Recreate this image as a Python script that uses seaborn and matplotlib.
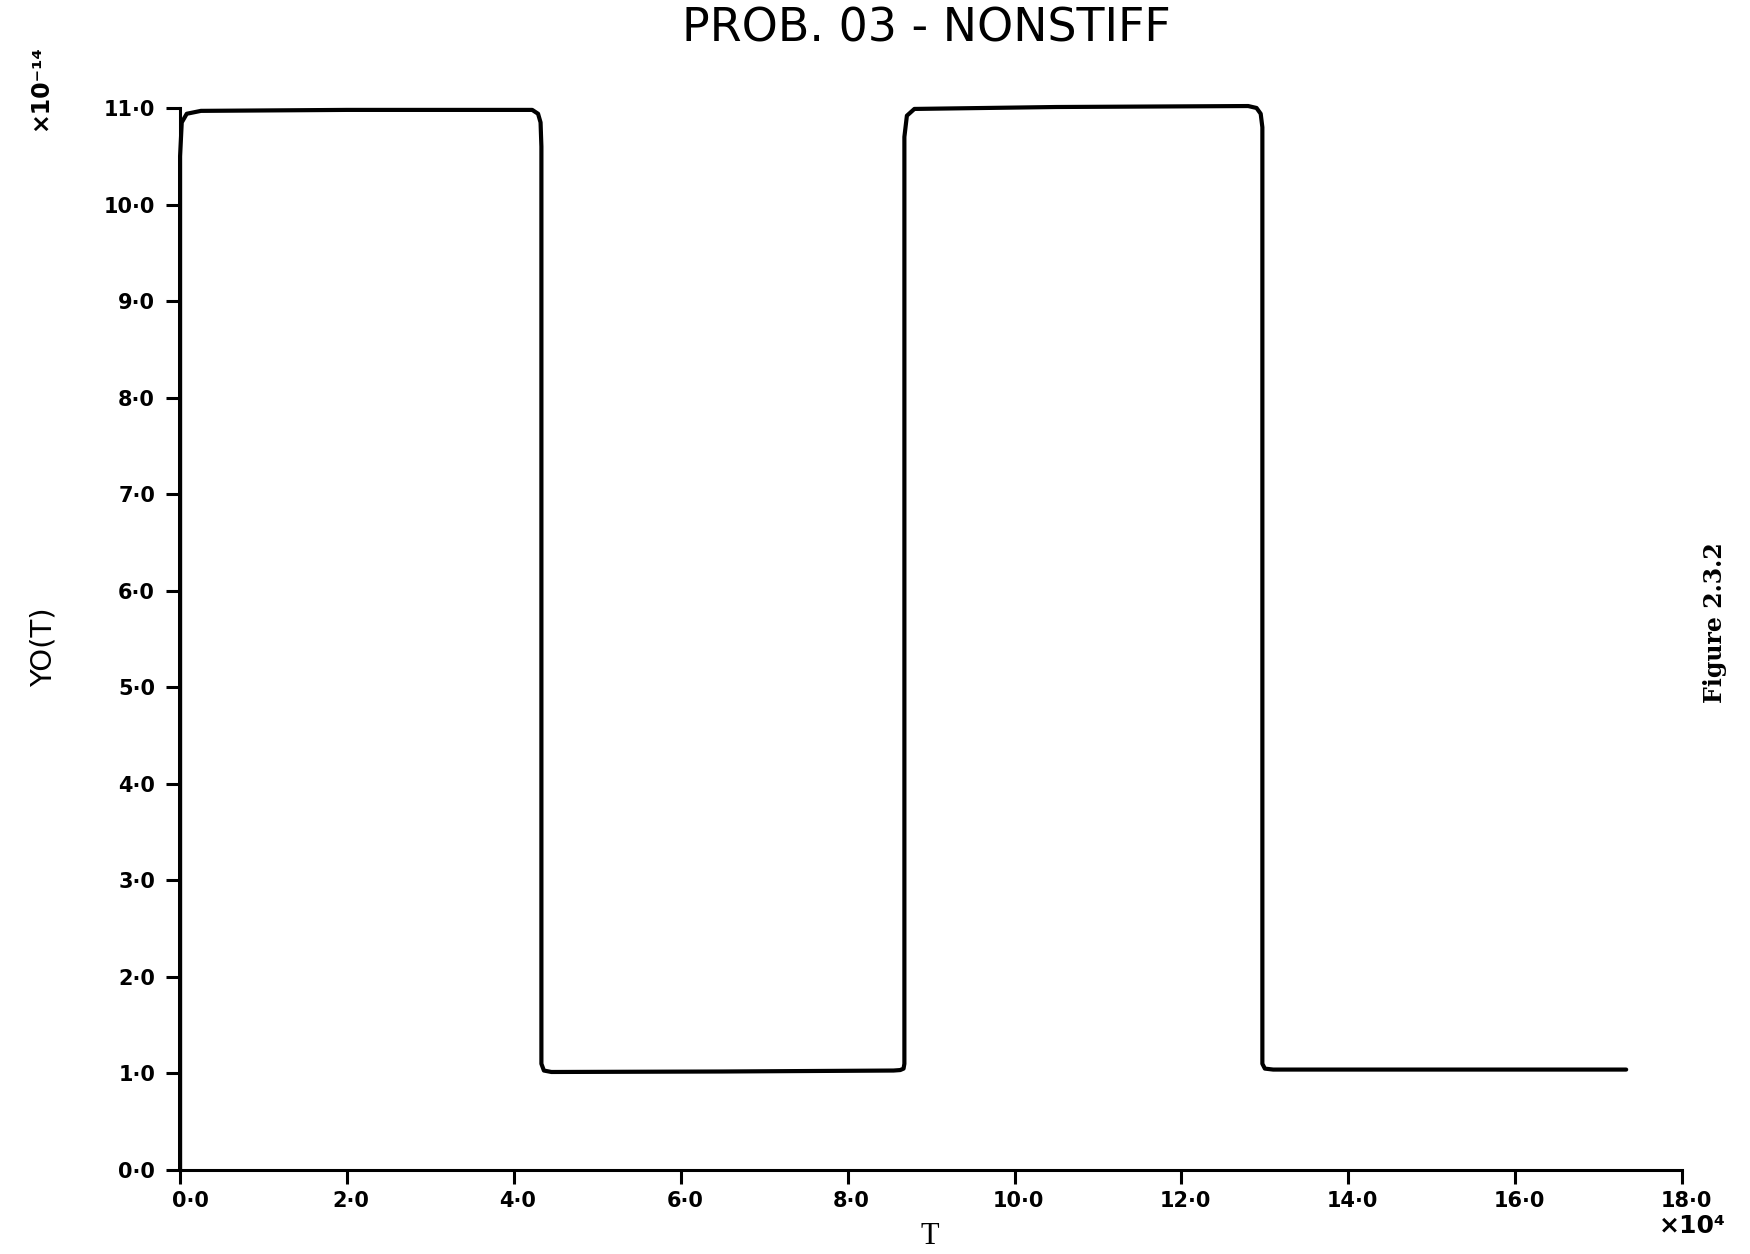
"""
Square-wave response, PROB. 03 - NONSTIFF (Figure 2.3.2)
"""

import matplotlib
matplotlib.use('Agg')
import matplotlib.pyplot as plt
import matplotlib.transforms as mtransforms
import numpy as np
import pandas as pd
import seaborn as sns

# Data (T in units of 1e4, Y0 in units of 1e-14)
t_vals = [0.0, 0.0, 0.02, 0.08, 0.25, 2.0, 4.0, 4.22, 4.29, 4.32, 4.33, 4.33,
          4.36, 4.45, 6.5, 8.55, 8.63, 8.67, 8.68, 8.68, 8.71, 8.8, 10.5,
          12.8, 12.9, 12.95, 12.97, 12.97, 13.0, 13.1, 15.0, 17.33]
y_vals = [0.0, 10.5, 10.85, 10.94, 10.97, 10.98, 10.98, 10.98, 10.94, 10.85,
          10.6, 1.1, 1.03, 1.015, 1.02, 1.03, 1.035, 1.05, 1.1, 10.7, 10.92,
          10.99, 11.01, 11.02, 11.0, 10.94, 10.8, 1.1, 1.05, 1.04, 1.04, 1.04]

x_ticks = [0, 2, 4, 6, 8, 10, 12, 14, 16, 18]
y_ticks = [0, 1, 2, 3, 4, 5, 6, 7, 8, 9, 10, 11]

df = pd.DataFrame({'T': t_vals, 'Y0': y_vals})

sns.set_theme(style='ticks')
plt.rcParams['font.family'] = ['DejaVu Sans']
plt.rcParams['text.color'] = 'black'

fig = plt.figure(figsize=(17.5, 12.54), dpi=100)
ax = fig.add_axes([0.1029, 0.067, 0.8583, 0.8469])

sns.lineplot(data=df, x='T', y='Y0', sort=False, estimator=None,
             color='black', linewidth=3.0, ax=ax, clip_on=False)

ax.set_xlim(0, 18)
ax.set_ylim(0, 11)
sns.despine(ax=ax)
for side in ['left', 'bottom']:
    ax.spines[side].set_linewidth(2.2)
    ax.spines[side].set_color('black')

def dot_fmt(v):
    return f"{v:.1f}".replace('.', '\u00b7')

ax.set_xticks(x_ticks)
ax.set_xticklabels([dot_fmt(v) for v in x_ticks])
ax.set_yticks(y_ticks)
ax.set_yticklabels([dot_fmt(v) for v in y_ticks])
ax.tick_params(axis='both', direction='out', length=10, width=2.2, color='black',
               labelsize=15, labelcolor='black')
ax.tick_params(axis='x', pad=5)
ax.tick_params(axis='y', pad=8)
for lab in ax.get_xticklabels() + ax.get_yticklabels():
    lab.set_fontweight('bold')

# x labels sit a little right of their ticks in the original
shift = mtransforms.ScaledTranslation(4 / 100, 0, fig.dpi_scale_trans)
for i, lab in enumerate(ax.get_xticklabels()):
    extra = mtransforms.ScaledTranslation(10 / 100, 0, fig.dpi_scale_trans) if i == 0 else shift
    lab.set_transform(lab.get_transform() + extra)

ax.set_xlabel('')
ax.set_ylabel('')

# Title and axis labels
fig.text(926 / 1750, 1 - 29 / 1254, 'PROB. 03 - NONSTIFF', ha='center', va='center',
         fontsize=33, fontweight='normal')
fig.text(44 / 1750, 1 - 647 / 1254, 'YO(T)', rotation=90, ha='center', va='center',
         fontsize=21, fontweight='normal')
fig.text(930 / 1750, 1 - 1237 / 1254, 'T', ha='center', va='center',
         fontsize=22, family='Liberation Serif')

# Scale factors
fig.text(40 / 1750, 1 - 88 / 1254, '\u00d710\u207b\u00b9\u2074', rotation=90,
         ha='center', va='center', fontsize=17, fontweight='bold')
fig.text(1692 / 1750, 1 - 1226 / 1254, '\u00d710\u2074', ha='center', va='center',
         fontsize=18, fontweight='bold')

# Figure caption on the right
fig.text(1715 / 1750, 1 - 623 / 1254, 'Figure 2.3.2', rotation=90, ha='center',
         va='center', fontsize=17, fontweight='bold', family='DejaVu Serif')

fig.savefig('out.png', dpi=100, facecolor='white')
